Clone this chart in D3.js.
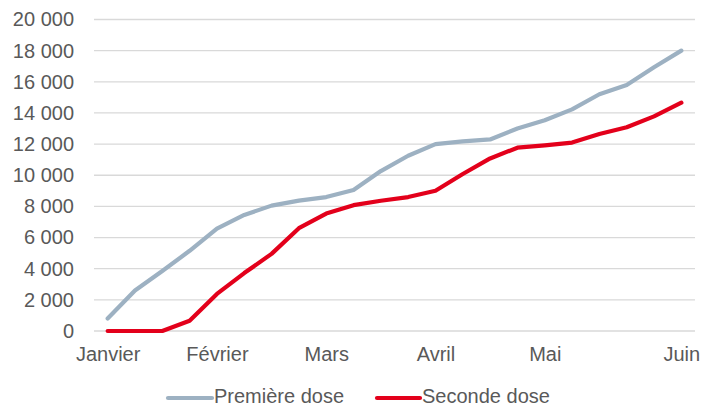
<!DOCTYPE html>
<html><head><meta charset="utf-8">
<script src="https://cdn.jsdelivr.net/npm/d3@7"></script>
<style>
body{margin:0;background:#fff;}
svg{display:block;font-family:"Liberation Sans",Arial,sans-serif;}
</style></head>
<body><svg id="c" width="702" height="407"></svg>
<script>
const weeks = d3.range(22);
const premiereDose = [800,2600,3850,5150,6580,7450,8050,8370,8600,9050,10270,11250,12000,12180,12300,13000,13530,14230,15200,15790,16930,18000];
const secondeDose = [0,0,0,660,2380,3720,4950,6600,7540,8080,8360,8600,9000,10080,11080,11770,11920,12100,12650,13080,13780,14660];
const monthLabels = ["Janvier","Février","Mars","Avril","Mai","Juin"];
const monthIndex = [0,4,8,12,16,21];
const yTicks = [0,2000,4000,6000,8000,10000,12000,14000,16000,18000,20000];
const seriesNames = ["Première dose","Seconde dose"];
const colors = ["#9db1c2","#e3001b"];

const svg = d3.select("#c");
const x = d3.scalePoint().domain(weeks).range([94,695]).padding(0.5);
const y = d3.scaleLinear().domain([0,20000]).range([331,19.5]);
const fmt = d3.formatLocale({decimal:",",thousands:"\u00a0",grouping:[3],currency:["","€"]}).format(",");

// grid
svg.append("g").selectAll("line").data(yTicks).join("line")
  .attr("x1",94).attr("x2",695)
  .attr("y1",d=>y(d)).attr("y2",d=>y(d))
  .attr("stroke","#d9d9d9").attr("stroke-width",1.3);

// y axis
const ya = svg.append("g").attr("transform","translate(94,0)")
  .call(d3.axisLeft(y).tickValues(yTicks).tickFormat(fmt).tickSize(0).tickPadding(20));
ya.select(".domain").remove();
ya.selectAll("text").attr("font-size",20).attr("fill","#595959").attr("font-family","Liberation Sans, Arial, sans-serif");

// x axis
const xa = svg.append("g").attr("transform","translate(0,331)")
  .call(d3.axisBottom(x).tickValues(monthIndex).tickFormat((d)=>monthLabels[monthIndex.indexOf(d)]).tickSize(0).tickPadding(16));
xa.select(".domain").remove();
xa.selectAll("text").attr("font-size",20).attr("fill","#595959").attr("font-family","Liberation Sans, Arial, sans-serif");

const line = d3.line().x((d,i)=>x(i)).y(d=>y(d));
[premiereDose,secondeDose].forEach((s,k)=>{
  svg.append("path").datum(s).attr("d",line)
    .attr("fill","none").attr("stroke",colors[k]).attr("stroke-width",4.2)
    .attr("stroke-linejoin","round").attr("stroke-linecap","round");
});

// legend
const leg = [{x1:168,x2:212},{x1:377,x2:420}];
leg.forEach((p,k)=>{
  svg.append("line").attr("x1",p.x1).attr("x2",p.x2).attr("y1",398).attr("y2",398)
    .attr("stroke",colors[k]).attr("stroke-width",4.2).attr("stroke-linecap","round");
  svg.append("text").attr("x",p.x2+2).attr("y",396).attr("dy","0.35em")
    .attr("font-size",20).attr("fill","#595959").text(seriesNames[k]);
});
</script></body></html>
